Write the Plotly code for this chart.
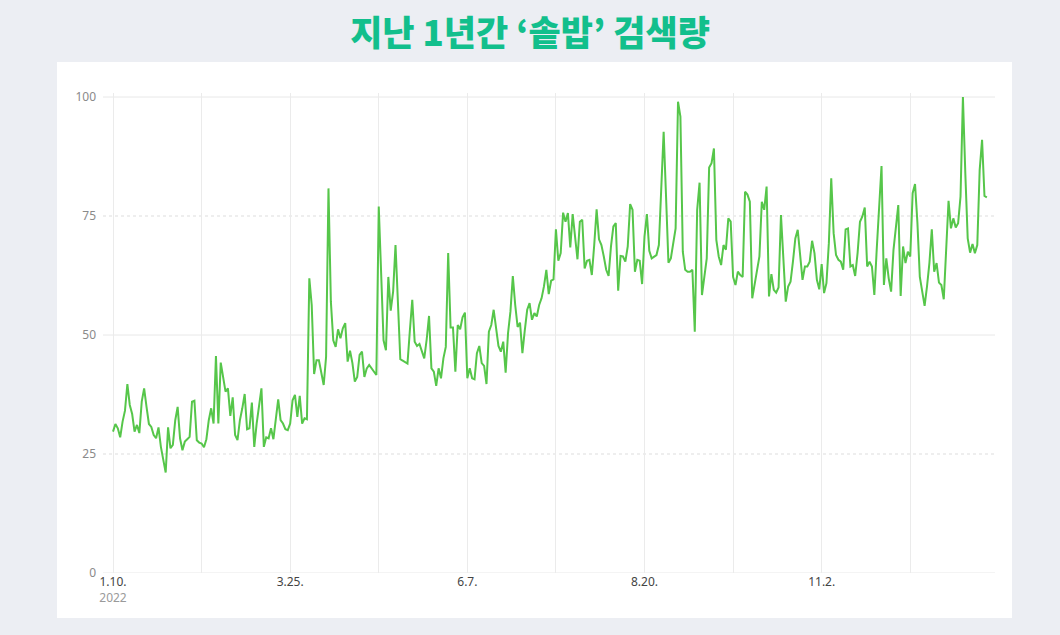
import pandas as pd
import plotly.graph_objects as go

# daily search index, 2022-01-10 .. 2023-01-10
seg_a = [29.7, 31.3, 30.4, 28.5, 31.8, 34.1, 39.7, 35.3, 33.4, 29.7,
         31.1, 29.4, 36.0, 38.8, 34.9, 31.3, 30.7, 29.0, 28.3, 30.6,
         26.5, 23.7, 21.1, 30.6, 26.2, 26.9, 32.1, 34.9, 28.3, 25.8,
         27.6, 28.1, 28.6, 36.0, 36.2, 27.9, 27.4, 27.2, 26.4, 28.1]
seg_b = [32.1, 34.6, 31.4, 45.6, 31.4, 44.2, 41.2, 38.1, 38.8, 33.0,
         36.9, 29.0, 27.9, 32.1, 34.6, 37.6, 30.2, 30.4, 35.8, 26.5,
         31.4, 35.7, 38.8, 26.5, 28.5, 28.3, 30.4, 28.1, 32.8, 36.5,
         32.1, 31.4, 30.2, 30.0, 31.4, 36.3, 37.4, 32.8, 37.2, 31.4, 32.5]
seg_c = [32.3, 61.9, 56.3, 41.8, 44.7, 44.7, 42.3, 39.5, 45.4, 80.8,
         57.0, 48.9, 47.5, 51.2, 49.3, 51.4, 52.5, 44.4, 46.7, 44.1,
         40.2, 41.2, 45.8, 46.5, 41.2, 43.0, 43.7, 43.0, 42.3, 41.6,
         77.0, 62.6, 48.9, 46.8, 62.2, 55.1, 59.1, 68.9, 54.9, 44.9, 44.6]
seg_d = [44.2, 44.0, 51.0, 57.4, 48.6, 47.7, 48.1, 46.8, 45.1, 49.0,
         54.0, 43.0, 42.3, 39.3, 43.0, 40.9, 45.1, 47.5, 67.2, 51.6,
         51.6, 42.3, 52.1, 51.2, 53.7, 54.7, 40.9, 43.0, 40.9, 40.7,
         46.2, 47.7, 44.1, 43.5, 39.7, 50.7, 52.1, 55.3, 51.0, 47.7,
         46.5, 48.6, 42.1, 50.4, 54.9, 62.4]
seg_e = [56.3, 51.7, 52.6, 46.2, 51.0, 55.3, 56.7, 53.2, 54.6, 53.9,
         56.3, 57.7, 60.2, 63.7, 58.6, 61.4, 61.7, 72.2, 65.6, 67.2,
         75.7, 73.8, 75.6, 68.4, 75.4, 70.7, 65.9, 73.8, 74.2, 64.0,
         65.6, 65.8, 62.6, 68.9, 76.4, 70.1]
seg_f = [68.9, 66.5, 63.7, 62.4, 68.6, 72.8, 73.5, 59.3, 66.6, 66.5,
         65.4, 68.6, 77.5, 76.3, 63.3, 65.8, 65.6, 60.7, 70.7, 75.4,
         67.7, 66.1, 66.5, 66.8, 68.9, 79.8, 92.7, 79.1, 65.2, 66.1,
         68.9, 72.4, 99.0, 95.9, 67.5, 63.7, 63.3, 63.3, 63.7, 50.7,
         76.3, 82.0]
seg_g = [58.4, 62.2, 66.1, 85.2, 86.1, 89.2, 70.0, 66.5, 64.7, 68.9,
         67.9, 74.5, 73.8, 62.2, 60.5, 63.3, 62.6, 62.2, 80.1, 79.5,
         78.0, 57.7, 60.9, 63.7, 66.5, 78.0, 76.3, 81.2, 58.1, 62.8,
         59.5, 58.9, 60.0, 75.2, 65.8, 57.0, 60.2, 61.2, 65.4, 70.3, 72.1]
seg_h = [67.2, 61.6, 64.4, 64.4, 65.4, 69.8, 67.2, 61.6, 59.6, 64.9,
         58.8, 60.9, 69.3, 82.9, 71.4, 66.8, 65.8, 65.4, 63.7, 72.2,
         72.4, 64.4, 64.7, 62.4, 67.2, 73.8, 74.9, 76.8, 64.4, 65.4,
         64.4, 58.4, 68.0, 76.0, 85.5, 60.5, 66.1, 61.9, 59.1, 67.9]
seg_i = [73.0, 77.3, 58.2, 68.6, 65.1, 67.5, 66.5, 79.8, 81.7, 73.5,
         62.2, 59.5, 56.1, 60.2, 65.1, 72.2, 63.3, 65.1, 61.0, 60.5,
         57.5, 67.9, 78.2, 72.4, 74.5, 72.6, 73.5, 79.1, 100.0, 84.0,
         70.3, 67.3, 69.1, 67.2, 68.9, 84.7, 91.0, 79.2, 78.9]

start_date = '2022-01-10'
tick_dates = ['2022-01-10', '2022-02-16', '2022-03-25', '2022-05-01', '2022-06-07',
              '2022-07-14', '2022-08-20', '2022-09-26', '2022-11-02', '2022-12-09']
tick_text = ["1.10.<br><span style='color:#9a9a9a'>2022</span>", '', '3.25.', '',
             '6.7.', '', '8.20.', '', '11.2.', '']
y_ticks = [0, 25, 50, 75, 100]
title = '지난 1년간 ‘솥밥’ 검색량'

values = seg_a + seg_b + seg_c + seg_d + seg_e + seg_f + seg_g + seg_h + seg_i
dates = pd.date_range(start_date, periods=len(values), freq='D')

# plot area is 892px wide at ~2.394 px per day -> 372.6 days shown
t0 = pd.Timestamp(start_date)
x_range = [t0 - pd.Timedelta(days=4.18), t0 + pd.Timedelta(days=368.4)]

fig = go.Figure()
fig.add_trace(go.Scatter(x=dates, y=values, mode='lines',
                         line=dict(color='#56C64A', width=2), hoverinfo='skip'))

shapes = [dict(type='rect', xref='paper', yref='paper',
               x0=-46 / 892, x1=909 / 892, y0=-45 / 480, y1=511 / 480,
               fillcolor='white', line_width=0, layer='below')]
for v in y_ticks:
    solid = v % 50 == 0
    shapes.append(dict(type='line', xref='paper', yref='y', x0=0, x1=1, y0=v, y1=v,
                       line=dict(color='#E8E8E8' if solid else '#DDDDDD', width=1,
                                 dash='solid' if solid else 'dot'),
                       layer='below'))

fig.update_layout(
    width=1060, height=635,
    margin=dict(l=103, r=65, t=93, b=62),
    paper_bgcolor='#ECEEF3', plot_bgcolor='white',
    showlegend=False,
    shapes=shapes,
    title=dict(text=title, x=0.5, xref='container', xanchor='center',
               y=1 - 34 / 635, yref='container', yanchor='middle',
               font=dict(family='Noto Sans CJK KR', size=35, color='#12BF8C', weight=900)),
    xaxis=dict(type='date', range=x_range, tickvals=tick_dates, ticktext=tick_text,
               showgrid=True, gridcolor='#EBEBEB', gridwidth=1, zeroline=False,
               showline=False, ticks='', tickfont=dict(family='Noto Sans', size=12, color='#444444')),
    yaxis=dict(range=[0, 100.84], tickvals=y_ticks, showgrid=False, zeroline=False,
               showline=False, ticks='', ticklabelstandoff=6,
               tickfont=dict(family='Noto Sans', size=12, color='#8a8a8a')),
)

# page has no margin so the figure sits at the window's corner
fig.write_html('out.html', config={'displayModeBar': False},
               post_script="document.body.style.margin='0';")
